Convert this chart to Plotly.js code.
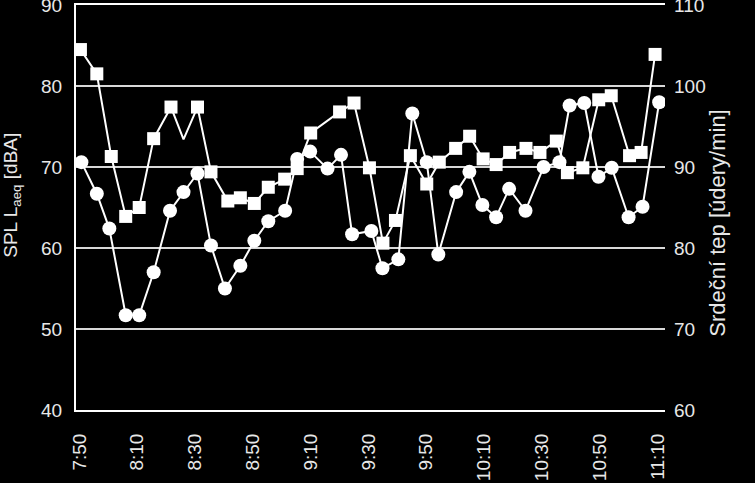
<!DOCTYPE html>
<html>
<head>
<meta charset="utf-8">
<script src="https://cdn.plot.ly/plotly-3.0.1.min.js"></script>
<style>
html,body{margin:0;padding:0;background:#000;}
#chart{width:755px;height:483px;}
</style>
</head>
<body>
<div id="chart"></div>
<script>
// Time tick labels
var tickLabels = ["7:50","8:10","8:30","8:50","9:10","9:30","9:50","10:10","10:30","10:50","11:10"];

// SPL Laeq [dBA] (squares, left axis)
var splTimes = ["7:50:20","7:56","8:01","8:06","8:10:40","8:15:40","8:21:40","8:26","8:30:50","8:35:30",
  "8:41:20","8:45:40","8:50:30","8:55:20","9:01","9:05:20","9:10","9:20","9:25","9:30:20",
  "9:35","9:39:20","9:44:30","9:50:10","9:54:30","10:00:10","10:05","10:09:40","10:14:10","10:18:50",
  "10:24:30","10:29:20","10:35","10:38:50","10:44:10","10:49:40","10:54","11:00:20","11:04:20","11:09:10"];
var splValues = [84.5,81.5,71.3,63.9,65.0,73.5,77.4,73.4,77.4,69.4,
  65.8,66.2,65.5,67.5,68.5,69.8,74.2,76.8,77.9,69.9,
  60.6,63.4,71.4,67.9,70.6,72.3,73.8,71.0,70.3,71.8,
  72.3,71.8,73.2,69.3,69.9,78.3,78.8,71.4,71.8,83.9];
var splHiddenMarker = [7]; // index of vertex drawn without a marker

// Heart rate [beats/min] (circles, right axis)
var hrTimes = ["7:50:40","7:56","8:00:20","8:06","8:10:40","8:15:40","8:21:20","8:26","8:30:50","8:35:30",
  "8:40:20","8:45:40","8:50:30","8:55:20","9:01:10","9:05:20","9:09:50","9:15:50","9:20:30","9:24:20",
  "9:31","9:34:50","9:40:20","9:45:10","9:50:10","9:54:10","10:00:20","10:04:55","10:09:25","10:14:10",
  "10:18:40","10:24:20","10:30:35","10:36:05","10:39:35","10:44:40","10:49:35","10:54:10","11:00","11:04:50","11:10:35"];
var hrValues = [90.6,86.7,82.4,71.7,71.7,77.0,84.6,86.9,89.2,80.3,
  75.0,77.8,80.9,83.3,84.6,91.0,91.9,89.8,91.5,81.7,
  82.1,77.5,78.6,96.6,90.6,79.2,86.9,89.4,85.3,83.8,
  87.3,84.6,90.0,90.6,97.6,97.9,88.8,89.9,83.8,85.1,98.0];

function toMin(t){
  var p = t.split(":").map(Number);
  return p[0]*60 + p[1] + (p[2]||0)/60 - (7*60+50);
}
var splX = splTimes.map(toMin);
var hrX = hrTimes.map(toMin);
var tickVals = tickLabels.map(toMin);
var splSizes = splValues.map(function(v,i){ return splHiddenMarker.indexOf(i) >= 0 ? 0 : 13; });

var fontFam = "Liberation Sans, Arial, sans-serif";
var txtCol = "#e8e8e8";

var traces = [
  {x: splX, y: splValues, type: "scatter", mode: "lines+markers", yaxis: "y",
   line: {color: "#ffffff", width: 2},
   marker: {symbol: "square", size: splSizes, opacity: 1, color: "#ffffff", line: {width: 0}},
   hoverinfo: "skip", showlegend: false},
  {x: hrX, y: hrValues, type: "scatter", mode: "lines+markers", yaxis: "y2",
   line: {color: "#ffffff", width: 2},
   marker: {symbol: "circle", size: 14, opacity: 1, color: "#ffffff", line: {width: 0}},
   hoverinfo: "skip", showlegend: false}
];

var layout = {
  width: 755, height: 483,
  paper_bgcolor: "#000", plot_bgcolor: "#000",
  margin: {l: 76, r: 90, t: 5, b: 73},
  font: {family: fontFam, color: txtCol, size: 18},
  showlegend: false,
  xaxis: {
    range: [-1.2, 202.6], tickmode: "array", tickvals: tickVals, ticktext: tickLabels,
    tickangle: -90, showgrid: false, zeroline: false,
    showline: true, mirror: true, linecolor: "#ffffff", linewidth: 2,
    ticks: "", ticklabelstandoff: 14, ticklabeloverflow: "allow",
    tickfont: {family: fontFam, size: 19, color: txtCol}
  },
  yaxis: {
    range: [40, 90.001], dtick: 10, tick0: 40,
    showgrid: true, gridcolor: "#d8d8d8", gridwidth: 1.5, zeroline: false,
    showline: true, linecolor: "#ffffff", linewidth: 2,
    ticks: "", ticklabelstandoff: 8, ticklabeloverflow: "allow",
    tickfont: {family: fontFam, size: 19, color: txtCol}
  },
  yaxis2: {
    range: [60, 110.001], dtick: 10, tick0: 60, overlaying: "y", side: "right",
    showgrid: false, zeroline: false, showline: false,
    ticks: "", ticklabelstandoff: 8, ticklabeloverflow: "allow",
    tickfont: {family: fontFam, size: 19, color: txtCol}
  },
  annotations: [
    {text: "SPL L<sub>aeq</sub> [dBA]", xref: "paper", yref: "paper", x: -0.108, y: 0.53,
     xanchor: "center", yanchor: "middle", textangle: -90, showarrow: false,
     font: {family: fontFam, size: 19, color: txtCol}},
    {text: "Srdeční tep [údery/min]", xref: "paper", yref: "paper", x: 1.09, y: 0.46,
     xanchor: "center", yanchor: "middle", textangle: -90, showarrow: false,
     font: {family: fontFam, size: 22, color: txtCol}}
  ]
};

Plotly.newPlot("chart", traces, layout, {staticPlot: true, displayModeBar: false});
</script>
</body>
</html>
